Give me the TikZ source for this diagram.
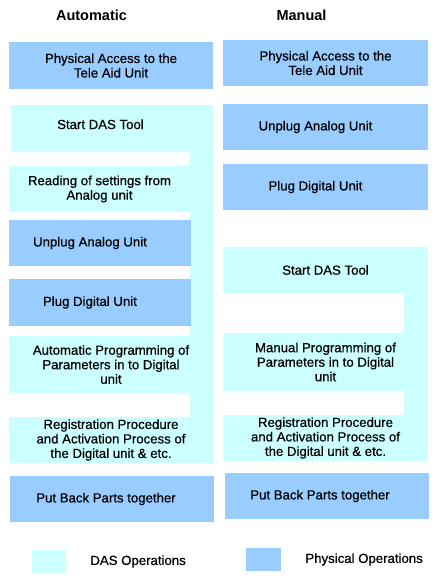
\documentclass[tikz,border=0pt]{standalone}
\usepackage{fontspec}
\setmainfont{Liberation Sans}
\newfontfamily\medfont[FakeBold=0.6]{Liberation Sans}
\usetikzlibrary{positioning}
\definecolor{physblue}{HTML}{99CCFF}
\definecolor{dascyan}{HTML}{CCFFFF}
\begin{document}
\begin{tikzpicture}[x=1pt, y=-1pt,
    box/.style={rectangle, inner sep=0pt, align=center,
        font=\medfont\fontsize{13.2}{14.5}\selectfont},
    physbox/.style={box, fill=physblue},
    dasbox/.style={box, fill=dascyan},
    title/.style={font=\fontsize{14.5}{16}\selectfont\bfseries, inner sep=0pt}]
    \useasboundingbox (0,0) rectangle (438,583);

    % titles
    \node[title] (autoTitle) at (91.5,15) {Automatic};
    \node[title] (manTitle) at (301.5,15) {Manual};

    % cyan strips that tie the DAS steps together
    \fill[dascyan] (190,105) rectangle (213,417);
    \fill[dascyan] (404,293) rectangle (428,415);

    % automatic column
    \node[physbox, minimum width=204, minimum height=47] (autoAccess) at (111,65.5) {Physical Access to the\\Tele Aid Unit};
    \node[dasbox, minimum width=179, minimum height=47] (autoStart) at (100.5,128.5) {Start DAS Tool\\[-6pt]};
    \node[dasbox, minimum width=181, minimum height=46] (autoRead) at (99.5,189) {Reading of settings from\\Analog unit};
    \node[physbox, minimum width=182, minimum height=46] (autoUnplug) at (100,243) {Unplug Analog Unit\hspace*{20pt}};
    \node[physbox, minimum width=182, minimum height=47] (autoPlug) at (100,302.5) {Plug Digital Unit\hspace*{20pt}};
    \node[dasbox, minimum width=204, minimum height=57] (autoProg) at (111,364.5) {Automatic Programming of\\Parameters in to Digital\\unit};
    \node[dasbox, minimum width=204, minimum height=46] (autoReg) at (111,440) {Registration Procedure\\and Activation Process of\\the Digital unit \& etc.};
    \node[physbox, minimum width=204, minimum height=46] (autoBack) at (112,499) {Put Back Parts together\hspace*{12pt}};

    % manual column
    \node[physbox, minimum width=205, minimum height=46] (manAccess) at (325.5,63) {Physical Access to the\\Tele Aid Unit};
    \node[physbox, minimum width=205, minimum height=46] (manUnplug) at (325.5,127) {Unplug Analog Unit\hspace*{20pt}};
    \node[physbox, minimum width=205, minimum height=46] (manPlug) at (325.5,187) {Plug Digital Unit\hspace*{20pt}};
    \node[dasbox, minimum width=205, minimum height=46] (manStart) at (325.5,270) {Start DAS Tool};
    \node[dasbox, minimum width=205, minimum height=58] (manProg) at (325.5,362) {Manual Programming of\\Parameters in to Digital\\unit};
    \node[dasbox, minimum width=205, minimum height=46] (manReg) at (325.5,438) {Registration Procedure\\and Activation Process of\\the Digital unit \& etc.};
    \node[physbox, minimum width=204, minimum height=46] (manBack) at (327,496) {Put Back Parts together\hspace*{14pt}};

    % legend
    \node[dasbox, minimum width=34, minimum height=23] (dasKey) at (49,561.5) {};
    \node[box, anchor=west, right=24 of dasKey] (dasText) {DAS Operations};
    \node[physbox, minimum width=35, minimum height=23] (physKey) at (263.5,559.5) {};
    \node[box, anchor=west, right=24 of physKey] (physText) {Physical Operations};
\end{tikzpicture}
\end{document}
